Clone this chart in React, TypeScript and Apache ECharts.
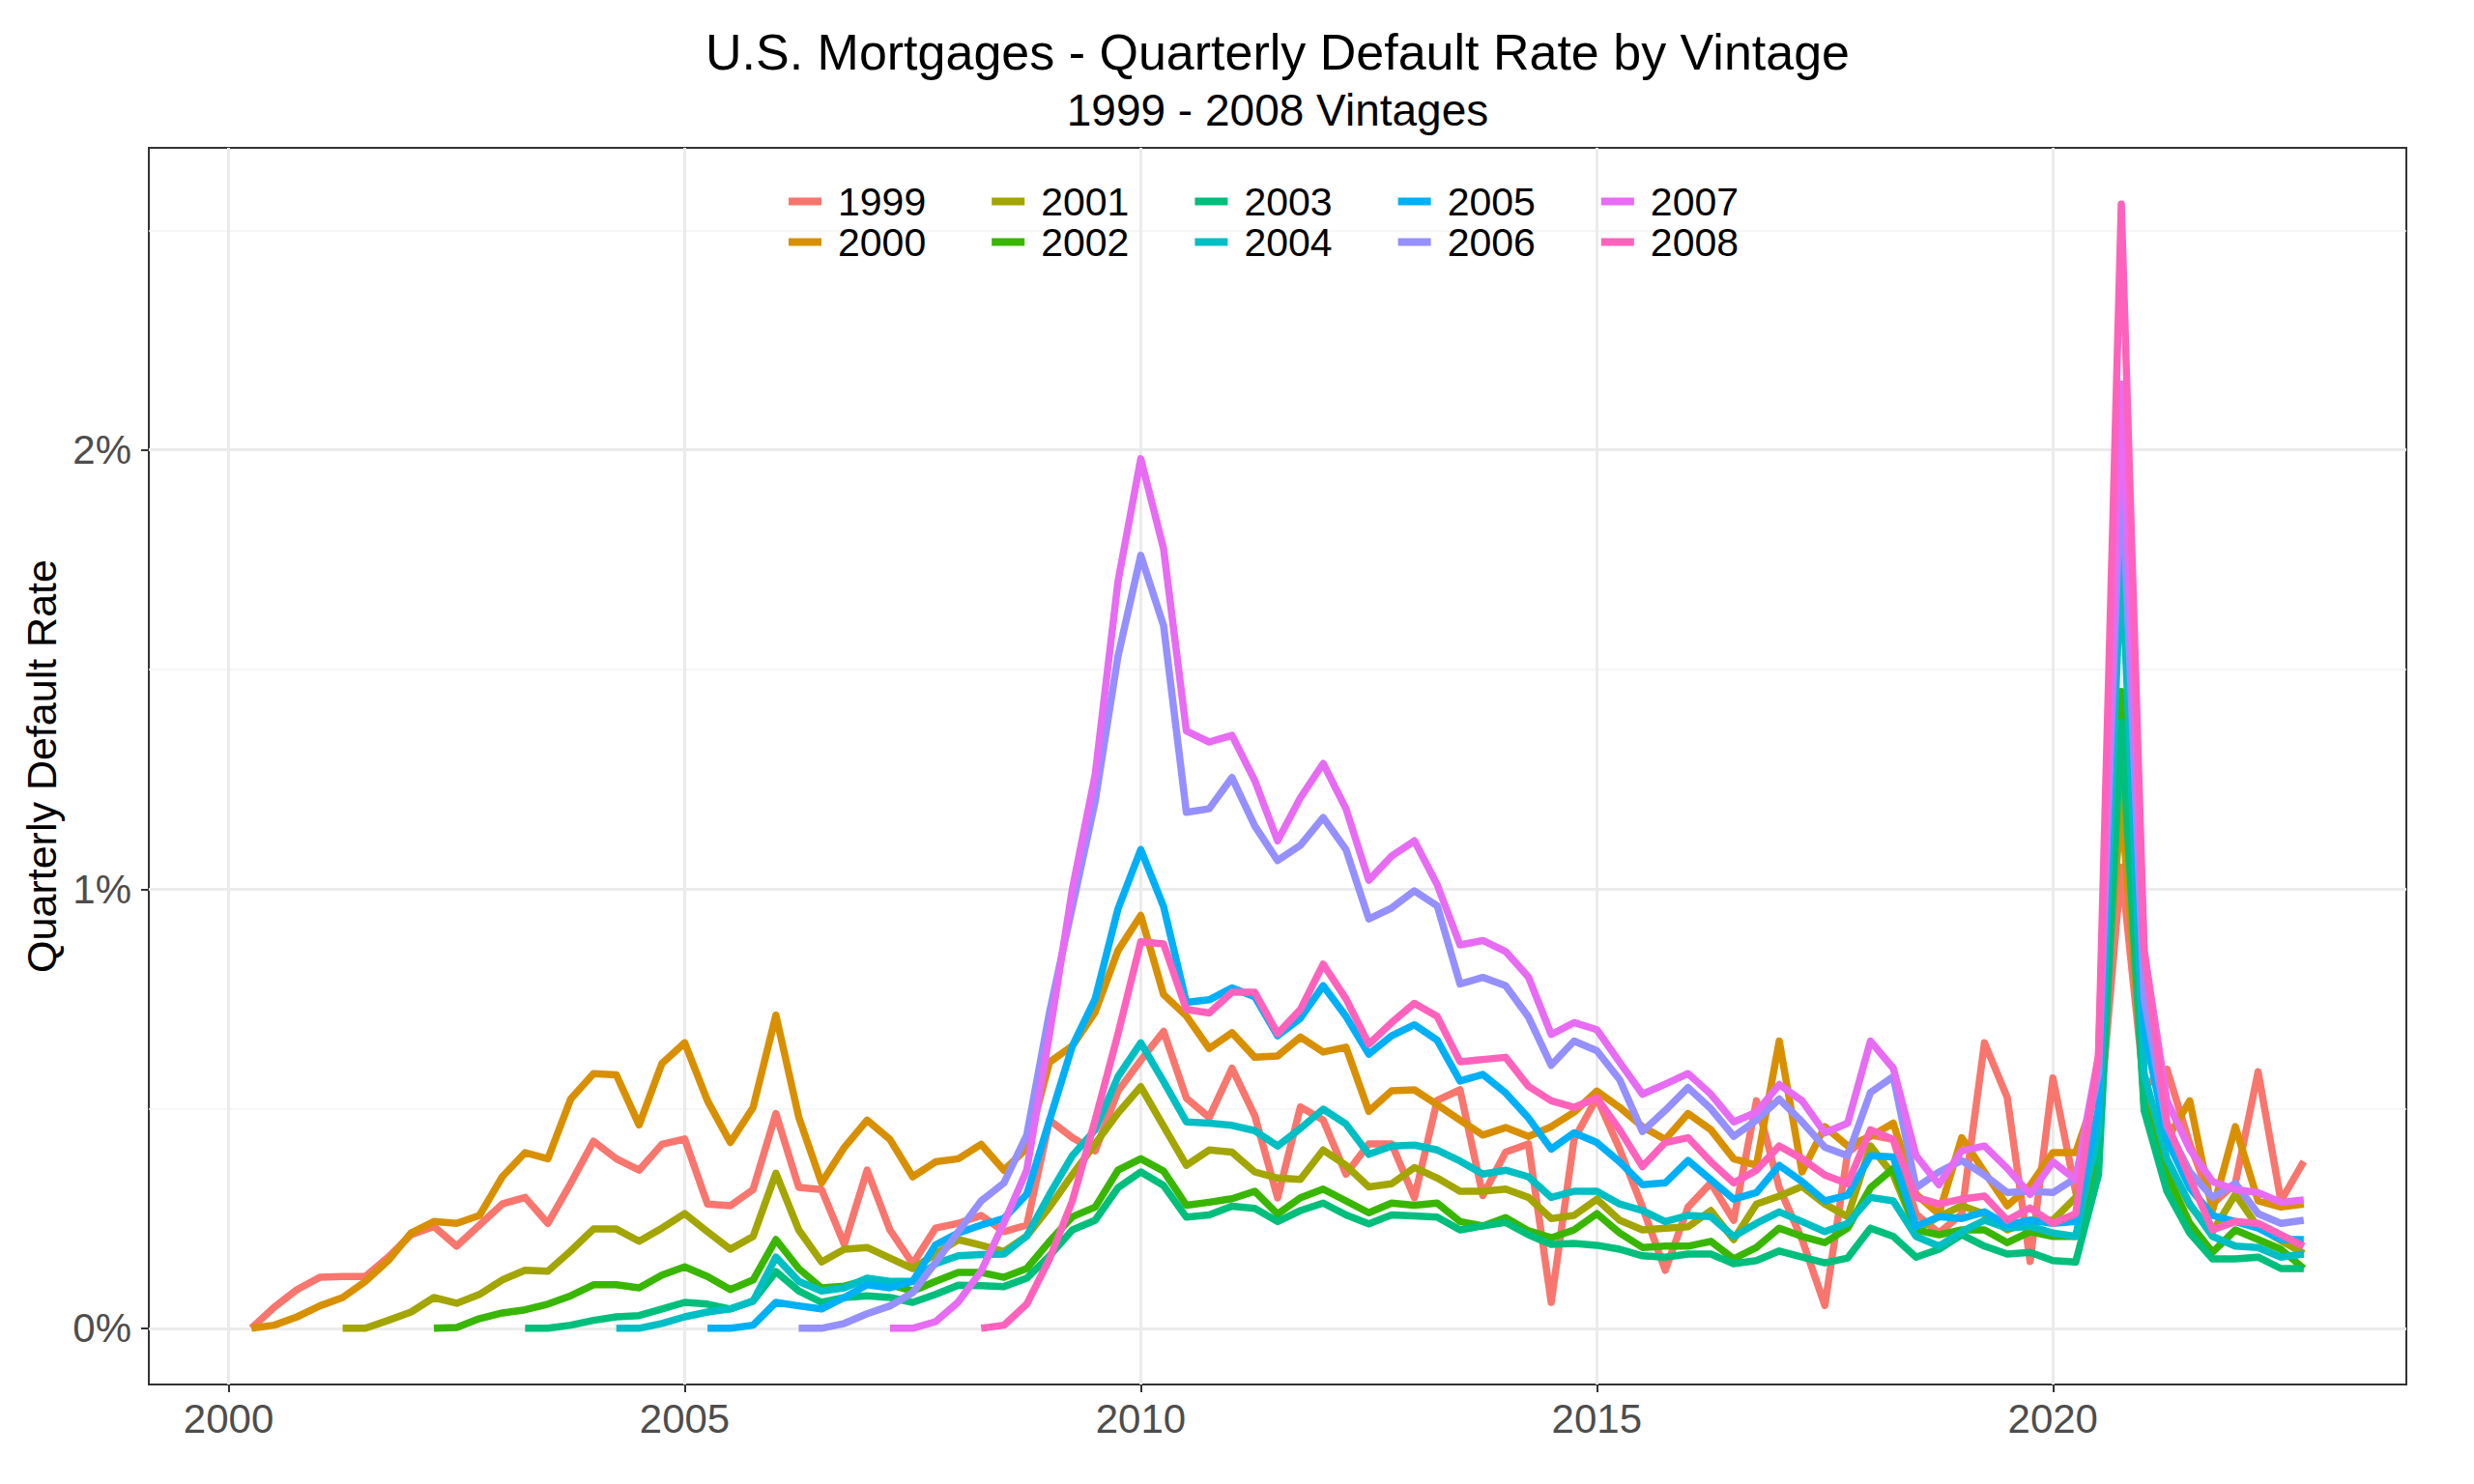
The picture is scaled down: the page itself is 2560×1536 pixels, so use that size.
import React, { useEffect, useRef } from 'react';
import * as echarts from 'echarts';

const FONT = "'Liberation Sans', Arial, Helvetica, sans-serif";

const vintages = ['1999', '2000', '2001', '2002', '2003', '2004', '2005', '2006', '2007', '2008'];
const colors = ['#F8766D', '#D89000', '#A3A500', '#39B600', '#00BF7D', '#00BFC4', '#00B0F6', '#9590FF', '#E76BF3', '#FF62BC'];
// first observed quarter of each vintage (decimal year)
const firstQuarter = [2000.25, 2000.25, 2001.25, 2002.25, 2003.25, 2004.25, 2005.25, 2006.25, 2007.25, 2008.25];

// quarterly default rates in percent, one row per calendar year
const rate1999 = [
  0, 0.048, 0.088,
  0.116, 0.118, 0.118, 0.162,
  0.213, 0.232, 0.187, 0.235,
  0.283, 0.298, 0.239, 0.33,
  0.426, 0.386, 0.36, 0.419,
  0.431, 0.283, 0.279, 0.316,
  0.489, 0.321, 0.316, 0.191,
  0.36, 0.224, 0.147, 0.228,
  0.239, 0.257, 0.22, 0.235,
  0.474, 0.434, 0.404, 0.54,
  0.61, 0.676, 0.524, 0.48,
  0.592, 0.484, 0.297, 0.504,
  0.474, 0.351, 0.42, 0.42,
  0.297, 0.519, 0.543, 0.302,
  0.401, 0.42, 0.059, 0.43,
  0.525, 0.408, 0.276, 0.132,
  0.276, 0.331, 0.246, 0.518,
  0.32, 0.202, 0.052, 0.40,
  0.44, 0.43, 0.26, 0.217,
  0.26, 0.65, 0.525, 0.152,
  0.57, 0.31, 0.45, 1.05,
  0.55, 0.59, 0.42, 0.283,
  0.33, 0.584, 0.29, 0.38,
];
const rate2000 = [
  0, 0.007, 0.026,
  0.051, 0.07, 0.107, 0.154,
  0.217, 0.243, 0.239, 0.257,
  0.345, 0.40, 0.386, 0.522,
  0.58, 0.577, 0.463, 0.603,
  0.65, 0.518, 0.423, 0.503,
  0.713, 0.481, 0.331, 0.412,
  0.474, 0.43, 0.345, 0.379,
  0.386, 0.419, 0.36, 0.41,
  0.606, 0.643, 0.72, 0.86,
  0.94, 0.76, 0.711, 0.637,
  0.673, 0.617, 0.62, 0.663,
  0.629, 0.64, 0.494, 0.541,
  0.543, 0.509, 0.474, 0.44,
  0.457, 0.437, 0.459, 0.492,
  0.54, 0.503, 0.459, 0.43,
  0.489, 0.452, 0.386, 0.371,
  0.654, 0.356, 0.459, 0.415,
  0.437, 0.467, 0.305, 0.26,
  0.434, 0.356, 0.279, 0.325,
  0.40, 0.40, 0.55, 1.19,
  0.55, 0.43, 0.518, 0.268,
  0.459, 0.29, 0.276, 0.283,
];
const rate2001 = [
  0, 0, 0.018,
  0.037, 0.07, 0.057, 0.077,
  0.11, 0.132, 0.13, 0.176,
  0.226, 0.226, 0.198, 0.228,
  0.261, 0.22, 0.18, 0.209,
  0.353, 0.224, 0.151, 0.18,
  0.184, 0.16, 0.136, 0.169,
  0.202, 0.189, 0.175, 0.21,
  0.276, 0.35, 0.42, 0.49,
  0.55, 0.46, 0.371, 0.406,
  0.401, 0.356, 0.342, 0.339,
  0.406, 0.371, 0.322, 0.329,
  0.366, 0.342, 0.312, 0.312,
  0.317, 0.298, 0.25, 0.257,
  0.294, 0.246, 0.224, 0.228,
  0.231, 0.268, 0.202, 0.283,
  0.301, 0.323, 0.283, 0.254,
  0.415, 0.349, 0.224, 0.254,
  0.279, 0.26, 0.224, 0.246,
  0.246, 0.298, 0.45, 1.30,
  0.52, 0.38, 0.28, 0.22,
  0.305, 0.23, 0.2, 0.17,
];
const rate2002 = [
  0, 0.002, 0.022,
  0.035, 0.042, 0.055, 0.074,
  0.099, 0.099, 0.092, 0.121,
  0.14, 0.118, 0.088, 0.11,
  0.202, 0.136, 0.092, 0.096,
  0.11, 0.099, 0.085, 0.107,
  0.127, 0.127, 0.116, 0.136,
  0.198, 0.254, 0.276, 0.36,
  0.386, 0.358, 0.28, 0.287,
  0.295, 0.312, 0.26, 0.297,
  0.317, 0.29, 0.263, 0.285,
  0.28, 0.285, 0.243, 0.233,
  0.252, 0.222, 0.206, 0.224,
  0.261, 0.217, 0.184, 0.187,
  0.187, 0.198, 0.158, 0.184,
  0.228, 0.209, 0.195, 0.228,
  0.32, 0.364, 0.224, 0.213,
  0.224, 0.224, 0.195, 0.22,
  0.209, 0.209, 0.40, 1.45,
  0.51, 0.35, 0.239, 0.173,
  0.224, 0.202, 0.18, 0.136,
];
const rate2003 = [
  0, 0, 0.007,
  0.018, 0.026, 0.029, 0.044,
  0.059, 0.055, 0.044, 0.062,
  0.129, 0.085, 0.059, 0.07,
  0.074, 0.07, 0.059, 0.077,
  0.098, 0.097, 0.095, 0.114,
  0.165, 0.224, 0.246, 0.32,
  0.356, 0.325, 0.253, 0.258,
  0.278, 0.273, 0.243, 0.268,
  0.285, 0.258, 0.238, 0.258,
  0.256, 0.253, 0.224, 0.233,
  0.241, 0.213, 0.191, 0.193,
  0.189, 0.18, 0.165, 0.162,
  0.169, 0.169, 0.147, 0.154,
  0.176, 0.162, 0.149, 0.16,
  0.228, 0.209, 0.162, 0.18,
  0.213, 0.187, 0.169, 0.173,
  0.154, 0.151, 0.35, 1.38,
  0.496, 0.312, 0.217, 0.158,
  0.158, 0.162, 0.136, 0.136,
];
const rate2004 = [
  0, 0, 0.011,
  0.026, 0.037, 0.044, 0.062,
  0.162, 0.107, 0.085, 0.092,
  0.114, 0.107, 0.107, 0.147,
  0.165, 0.168, 0.169, 0.21,
  0.305, 0.393, 0.452, 0.573,
  0.65, 0.562, 0.47, 0.467,
  0.462, 0.45, 0.415, 0.455,
  0.499, 0.465, 0.396, 0.415,
  0.417, 0.406, 0.381, 0.351,
  0.36, 0.345, 0.298, 0.312,
  0.312, 0.283, 0.268, 0.243,
  0.257, 0.254, 0.209, 0.239,
  0.265, 0.243, 0.22, 0.239,
  0.298, 0.29, 0.209, 0.187,
  0.22, 0.246, 0.228, 0.232,
  0.217, 0.209, 0.45, 1.76,
  0.58, 0.386, 0.283, 0.209,
  0.187, 0.184, 0.162, 0.169,
];
const rate2005 = [
  0, 0, 0.007,
  0.059, 0.051, 0.044, 0.07,
  0.099, 0.092, 0.107, 0.19,
  0.217, 0.235, 0.25, 0.305,
  0.474, 0.643, 0.75, 0.955,
  1.09, 0.96, 0.742, 0.748,
  0.775, 0.755, 0.666, 0.706,
  0.78, 0.71, 0.624, 0.666,
  0.691, 0.656, 0.563, 0.578,
  0.536, 0.479, 0.408, 0.445,
  0.423, 0.379, 0.327, 0.331,
  0.382, 0.338, 0.294, 0.309,
  0.371, 0.334, 0.29, 0.303,
  0.393, 0.39, 0.232, 0.254,
  0.25, 0.265, 0.235, 0.246,
  0.239, 0.243, 0.50, 2.00,
  0.68, 0.43, 0.32, 0.257,
  0.243, 0.228, 0.202, 0.202,
];
const rate2006 = [
  0, 0, 0.011,
  0.033, 0.051, 0.081, 0.15,
  0.22, 0.29, 0.331, 0.44,
  0.72, 0.96, 1.2, 1.53,
  1.76, 1.60, 1.175, 1.183,
  1.254, 1.144, 1.065, 1.10,
  1.163, 1.09, 0.932, 0.957,
  0.996, 0.962, 0.784, 0.799,
  0.78, 0.709, 0.599, 0.654,
  0.632, 0.566, 0.448, 0.496,
  0.548, 0.50, 0.437, 0.474,
  0.522, 0.47, 0.412, 0.393,
  0.537, 0.573, 0.32, 0.356,
  0.382, 0.349, 0.309, 0.312,
  0.309, 0.342, 0.58, 1.97,
  0.75, 0.46, 0.356, 0.298,
  0.33, 0.261, 0.239, 0.246,
];
const rate2007 = [
  0, 0, 0.015,
  0.06, 0.13, 0.24, 0.36,
  0.67, 1.0, 1.26, 1.70,
  1.98, 1.775, 1.36, 1.335,
  1.35, 1.247, 1.11, 1.208,
  1.286, 1.183, 1.02, 1.075,
  1.11, 1.01, 0.873, 0.883,
  0.858, 0.80, 0.669, 0.696,
  0.68, 0.606, 0.533, 0.556,
  0.58, 0.533, 0.47, 0.492,
  0.555, 0.518, 0.445, 0.467,
  0.654, 0.592, 0.393, 0.327,
  0.404, 0.415, 0.364, 0.305,
  0.379, 0.338, 0.62, 2.15,
  0.86, 0.518, 0.408, 0.334,
  0.316, 0.309, 0.287, 0.292,
];
const rate2008 = [
  0, 0.007, 0.055,
  0.158, 0.29, 0.474, 0.67,
  0.88, 0.875, 0.726, 0.718,
  0.765, 0.765, 0.671, 0.726,
  0.829, 0.75, 0.647, 0.696,
  0.74, 0.71, 0.607, 0.612,
  0.617, 0.551, 0.518, 0.503,
  0.525, 0.452, 0.368, 0.423,
  0.434, 0.379, 0.331, 0.36,
  0.415, 0.386, 0.349, 0.329,
  0.452, 0.43, 0.298, 0.283,
  0.294, 0.301, 0.246, 0.274,
  0.239, 0.261, 0.62, 2.56,
  0.86, 0.467, 0.342, 0.224,
  0.243, 0.239, 0.213, 0.187,
];

const rates = [rate1999, rate2000, rate2001, rate2002, rate2003, rate2004, rate2005, rate2006, rate2007, rate2008];

const xTicks = [2000, 2005, 2010, 2015, 2020];
const yTicks = [0, 1, 2];
const yMinor = [0.5, 1.5, 2.5];

const legendRow1 = ['1999', '2001', '2003', '2005', '2007'];
const legendRow2 = ['2000', '2002', '2004', '2006', '2008'];

function buildOption() {
  const major = { color: '#EBEBEB', width: 3, type: 'solid' };
  const minor = { color: '#F3F3F3', width: 1.5, type: 'solid' };

  const lineSeries = vintages.map((name, k) => ({
    name,
    type: 'line',
    data: rates[k].map((v, i) => [firstQuarter[k] + 0.25 * i, v]),
    showSymbol: false,
    symbol: 'none',
    color: colors[k],
    itemStyle: { color: colors[k] },
    lineStyle: { color: colors[k], width: 7.5, join: 'round', cap: 'butt' },
    emphasis: { disabled: true },
    z: 3,
  }));

  const gridSeries = {
    name: 'gridlines',
    type: 'line',
    data: [],
    silent: true,
    z: 1,
    markLine: {
      silent: true,
      z: 1,
      animation: false,
      symbol: ['none', 'none'],
      label: { show: false },
      emphasis: { disabled: true },
      data: [
        ...yMinor.map((v) => ({ yAxis: v, lineStyle: minor })),
        ...xTicks.map((v) => ({ xAxis: v, lineStyle: major })),
        ...yTicks.map((v) => ({ yAxis: v, lineStyle: major })),
      ],
    },
  };

  const legendCommon = {
    left: 816,
    orient: 'horizontal',
    padding: 0,
    itemWidth: 34,
    itemHeight: 8,
    itemGap: 68,
    icon: 'rect',
    selectedMode: false,
    formatter: '{p|{name}}',
    textStyle: {
      fontSize: 41,
      color: '#000',
      fontFamily: FONT,
      rich: { p: { padding: [0, 0, 0, 12], fontSize: 41, color: '#000', fontFamily: FONT, lineHeight: 42 } },
    },
  };

  return {
    animation: false,
    backgroundColor: '#ffffff',
    title: [
      {
        text: 'U.S. Mortgages - Quarterly Default Rate by Vintage',
        left: 1322,
        top: 28,
        padding: 0,
        textAlign: 'center',
        textStyle: { fontSize: 52, fontWeight: 'normal', color: '#000', fontFamily: FONT },
      },
      {
        text: '1999 - 2008 Vintages',
        left: 1322,
        top: 91,
        padding: 0,
        textAlign: 'center',
        textStyle: { fontSize: 46, fontWeight: 'normal', color: '#000', fontFamily: FONT },
      },
    ],
    legend: [
      { ...legendCommon, top: 188, data: legendRow1 },
      { ...legendCommon, top: 230, data: legendRow2 },
    ],
    grid: {
      left: 154,
      right: 70,
      top: 153,
      bottom: 103,
      show: true,
      borderColor: '#333333',
      borderWidth: 2,
      backgroundColor: 'transparent',
    },
    xAxis: {
      type: 'value',
      min: (e: any) => e.min - 0.05 * (e.max - e.min),
      max: (e: any) => e.max + 0.05 * (e.max - e.min),
      axisLine: { show: true, onZero: false, lineStyle: { color: '#333333', width: 2 } },
      axisTick: { show: true, length: 8, customValues: xTicks, lineStyle: { color: '#333333', width: 2 } },
      axisLabel: {
        customValues: xTicks,
        formatter: (v: number) => String(Math.round(v)),
        fontSize: 42,
        color: '#4D4D4D',
        fontFamily: FONT,
        margin: 14,
      },
      splitLine: { show: false },
    },
    yAxis: {
      type: 'value',
      min: (e: any) => e.min - 0.05 * (e.max - e.min),
      max: (e: any) => e.max + 0.05 * (e.max - e.min),
      name: 'Quarterly Default Rate',
      nameLocation: 'middle',
      nameGap: 82,
      nameTextStyle: { fontSize: 43, color: '#000', fontFamily: FONT },
      axisLine: { show: true, lineStyle: { color: '#333333', width: 2 } },
      axisTick: { show: true, length: 8, customValues: yTicks, lineStyle: { color: '#333333', width: 2 } },
      axisLabel: {
        customValues: yTicks,
        formatter: (v: number) => `${Math.round(v)}%`,
        fontSize: 42,
        color: '#4D4D4D',
        fontFamily: FONT,
        margin: 18,
      },
      splitLine: { show: false },
    },
    series: [gridSeries, ...lineSeries],
  };
}

export default function App() {
  const ref = useRef<HTMLDivElement>(null);
  useEffect(() => {
    if (!ref.current) return;
    const chart = echarts.init(ref.current, null, { renderer: 'svg' });
    chart.setOption(buildOption() as any);
    return () => chart.dispose();
  }, []);
  return (
    <div
      ref={ref}
      style={{ position: 'fixed', left: 0, top: 0, width: 2560, height: 1536, background: '#ffffff' }}
    />
  );
}
